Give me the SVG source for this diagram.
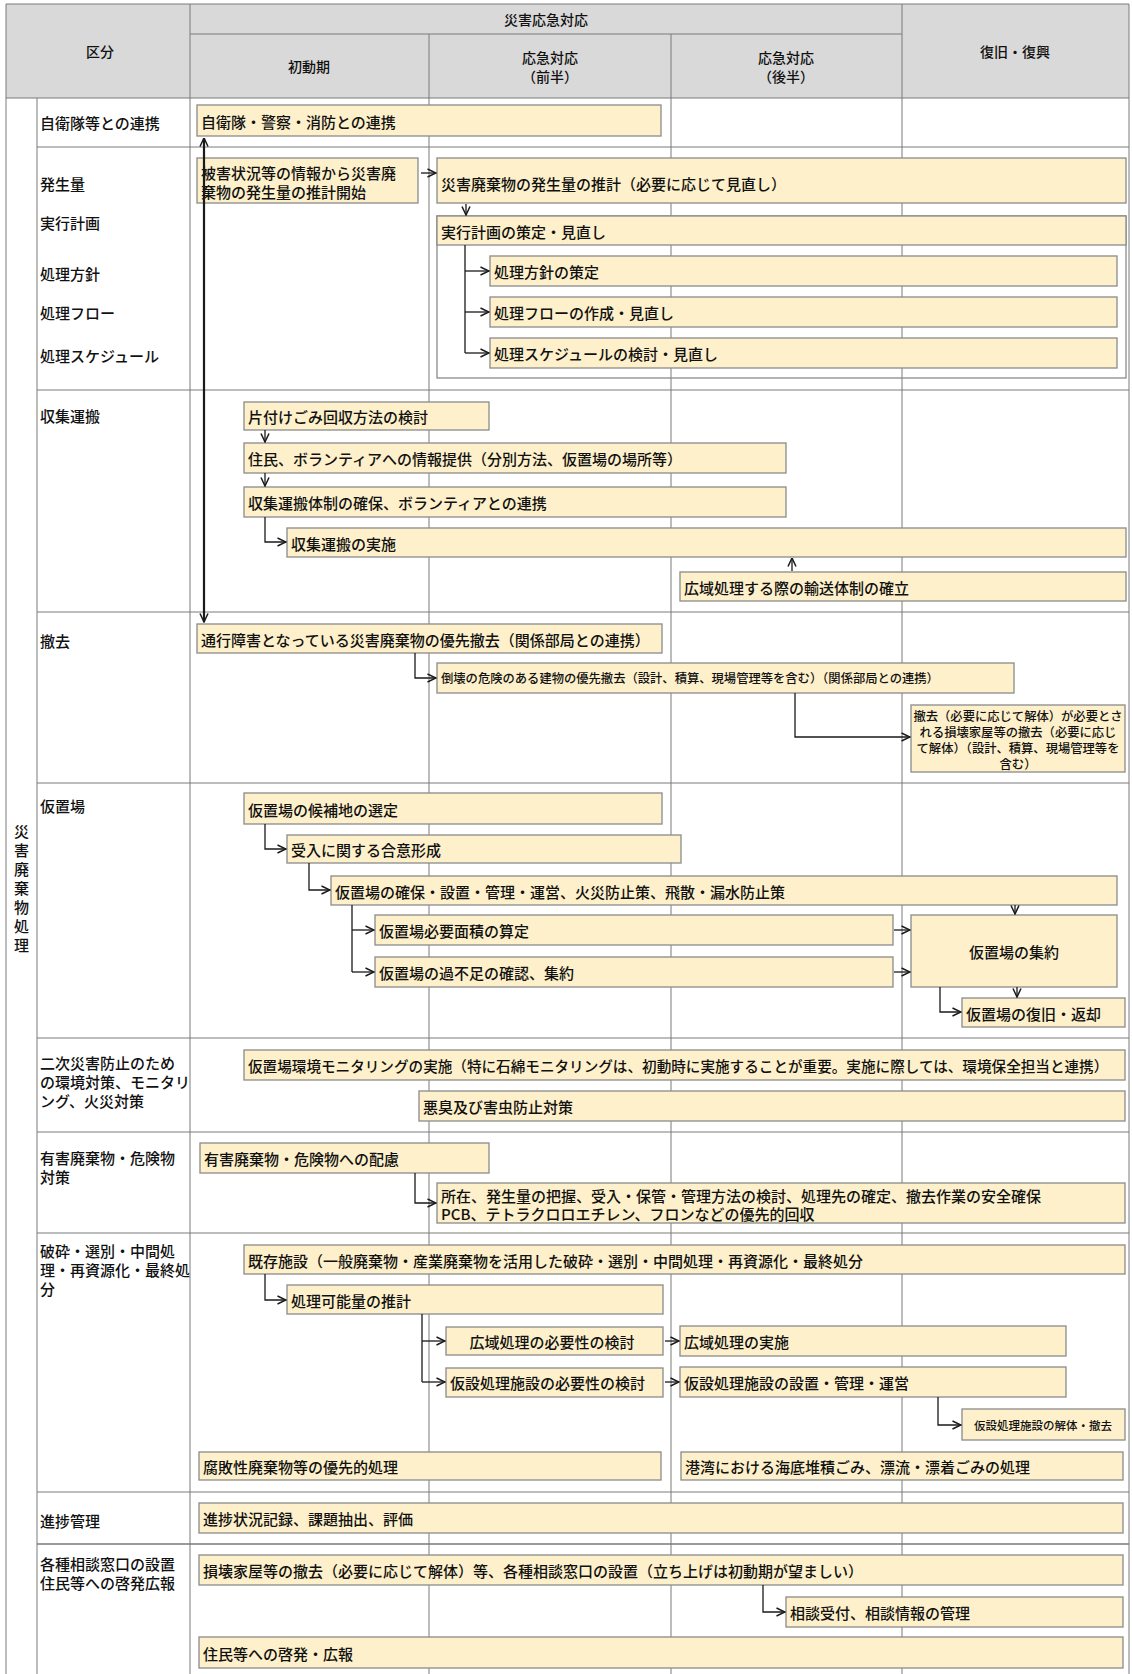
<svg xmlns="http://www.w3.org/2000/svg" width="1132" height="1674" viewBox="0 0 1132 1674">
<style>
.grid{stroke:#7a7a7a;stroke-width:1;fill:none}
.box{fill:#fdf0ca;stroke:#8a8a8a;stroke-width:1.3}
.frame{fill:none;stroke:#8a8a8a;stroke-width:1.3}
text{font-family:"Noto Sans CJK JP","Noto Sans CJK SC",sans-serif;font-size:15px;font-weight:500;fill:#111;dominant-baseline:central}
.h{font-size:14px}
.s{font-size:12.3px}
.xs{font-size:11.5px}
.c{text-anchor:middle}
.conn{stroke:#1a1a1a;stroke-width:1.3;fill:none}
.big{stroke:#1a1a1a;stroke-width:2.2;fill:none}
</style>
<defs>
<marker id="ah" viewBox="0 0 10 10" refX="9.5" refY="5" markerWidth="10" markerHeight="10" markerUnits="userSpaceOnUse" orient="auto-start-reverse">
<path d="M1,1 L9.5,5 L1,9" fill="none" stroke="#1a1a1a" stroke-width="1.5"/>
</marker>
</defs>
<rect width="1132" height="1674" fill="#ffffff"/>

<g id="table">
<rect x="6" y="4" width="1123" height="94" fill="#d9d9d9"/>
<line class="grid" x1="6" y1="4" x2="1129" y2="4"/>
<line class="grid" x1="6" y1="4" x2="6" y2="1674"/>
<line class="grid" x1="1129" y1="4" x2="1129" y2="1674"/>
<line class="grid" x1="37" y1="98" x2="37" y2="1674"/>
<line class="grid" x1="190" y1="4" x2="190" y2="1674"/>
<line class="grid" x1="429" y1="34" x2="429" y2="1674"/>
<line class="grid" x1="671" y1="34" x2="671" y2="1674"/>
<line class="grid" x1="902" y1="4" x2="902" y2="1674"/>
<line class="grid" x1="190" y1="34" x2="902" y2="34"/>
<line class="grid" x1="6" y1="98" x2="1129" y2="98"/>
<line class="grid" x1="37" y1="147" x2="1129" y2="147"/>
<line class="grid" x1="37" y1="390" x2="1129" y2="390"/>
<line class="grid" x1="37" y1="612" x2="1129" y2="612"/>
<line class="grid" x1="37" y1="783" x2="1129" y2="783"/>
<line class="grid" x1="37" y1="1038" x2="1129" y2="1038"/>
<line class="grid" x1="37" y1="1132" x2="1129" y2="1132"/>
<line class="grid" x1="37" y1="1233" x2="1129" y2="1233"/>
<line class="grid" x1="37" y1="1492" x2="1129" y2="1492"/>
<line class="grid" x1="37" y1="1544" x2="1129" y2="1544" style="stroke-width:1.6"/>
</g>

<g id="header">
<text class="h c" x="100" y="51">区分</text>
<text class="h c" x="546" y="19">災害応急対応</text>
<text class="h c" x="309" y="66">初動期</text>
<text class="h c" x="550" y="57">応急対応</text>
<text class="h c" x="550" y="76">（前半）</text>
<text class="h c" x="786" y="57">応急対応</text>
<text class="h c" x="786" y="76">（後半）</text>
<text class="h c" x="1015" y="51">復旧・復興</text>
</g>

<g id="side-label">
<text class="c" x="21.5" y="830">災</text>
<text class="c" x="21.5" y="849">害</text>
<text class="c" x="21.5" y="868">廃</text>
<text class="c" x="21.5" y="887">棄</text>
<text class="c" x="21.5" y="906">物</text>
<text class="c" x="21.5" y="925">処</text>
<text class="c" x="21.5" y="944">理</text>
</g>

<g id="categories">
<text x="40" y="122">自衛隊等との連携</text>
<text x="40" y="183">発生量</text>
<text x="40" y="222">実行計画</text>
<text x="40" y="273">処理方針</text>
<text x="40" y="312">処理フロー</text>
<text x="40" y="355">処理スケジュール</text>
<text x="40" y="415">収集運搬</text>
<text x="40" y="640">撤去</text>
<text x="40" y="805">仮置場</text>
<text x="40" y="1062">二次災害防止のため</text>
<text x="40" y="1081">の環境対策、モニタリ</text>
<text x="40" y="1100">ング、火災対策</text>
<text x="40" y="1157">有害廃棄物・危険物</text>
<text x="40" y="1176">対策</text>
<text x="40" y="1250">破砕・選別・中間処</text>
<text x="40" y="1269">理・再資源化・最終処</text>
<text x="40" y="1288">分</text>
<text x="40" y="1520">進捗管理</text>
<text x="40" y="1563">各種相談窓口の設置</text>
<text x="40" y="1582">住民等への啓発広報</text>
</g>

<g id="n-jieitai"><rect class="box" x="197" y="105" width="464" height="31"/><text x="201" y="121">自衛隊・警察・消防との連携</text></g>
<g id="n-suikei-start"><rect class="box" x="197" y="158" width="221" height="45"/><text x="201" y="172">被害状況等の情報から災害廃</text><text x="201" y="191">棄物の発生量の推計開始</text></g>
<g id="n-suikei"><rect class="box" x="437" y="158" width="689" height="45"/><text x="441" y="183">災害廃棄物の発生量の推計（必要に応じて見直し）</text></g>
<g id="n-frame"><rect class="frame" x="437" y="216" width="689" height="162"/></g>
<g id="n-jikko"><rect class="box" x="437" y="216" width="689" height="29"/><text x="441" y="231">実行計画の策定・見直し</text></g>
<g id="n-hoshin"><rect class="box" x="490" y="256" width="627" height="30"/><text x="494" y="271">処理方針の策定</text></g>
<g id="n-flow"><rect class="box" x="490" y="297" width="627" height="30"/><text x="494" y="312">処理フローの作成・見直し</text></g>
<g id="n-schedule"><rect class="box" x="490" y="338" width="627" height="30"/><text x="494" y="353">処理スケジュールの検討・見直し</text></g>

<g id="n-katazuke"><rect class="box" x="244" y="402" width="245" height="28"/><text x="248" y="416">片付けごみ回収方法の検討</text></g>
<g id="n-joho"><rect class="box" x="244" y="443" width="542" height="30"/><text x="248" y="458">住民、ボランティアへの情報提供（分別方法、仮置場の場所等）</text></g>
<g id="n-taisei"><rect class="box" x="244" y="487" width="542" height="30"/><text x="248" y="502">収集運搬体制の確保、ボランティアとの連携</text></g>
<g id="n-jisshi"><rect class="box" x="287" y="528" width="839" height="29"/><text x="291" y="543">収集運搬の実施</text></g>
<g id="n-yuso"><rect class="box" x="680" y="572" width="446" height="29"/><text x="684" y="587">広域処理する際の輸送体制の確立</text></g>

<g id="n-tsuko"><rect class="box" x="197" y="624" width="465" height="29"/><text x="201" y="639">通行障害となっている災害廃棄物の優先撤去（関係部局との連携）</text></g>
<g id="n-tokai"><rect class="box" x="437" y="663" width="577" height="30"/><text class="s" x="441" y="678">倒壊の危険のある建物の優先撤去（設計、積算、現場管理等を含む）（関係部局との連携）</text></g>
<g id="n-sonkai"><rect class="box" x="911" y="705" width="214" height="67"/><text class="s c" x="1018" y="716">撤去（必要に応じて解体）が必要とさ</text><text class="s c" x="1018" y="732">れる損壊家屋等の撤去（必要に応じ</text><text class="s c" x="1018" y="748">て解体）（設計、積算、現場管理等を</text><text class="s c" x="1018" y="764">含む）</text></g>

<g id="n-kohochi"><rect class="box" x="244" y="793" width="418" height="31"/><text x="248" y="809">仮置場の候補地の選定</text></g>
<g id="n-goi"><rect class="box" x="287" y="835" width="394" height="28"/><text x="291" y="849">受入に関する合意形成</text></g>
<g id="n-kakuho"><rect class="box" x="331" y="876" width="786" height="29"/><text x="335" y="891">仮置場の確保・設置・管理・運営、火災防止策、飛散・漏水防止策</text></g>
<g id="n-menseki"><rect class="box" x="375" y="915" width="518" height="30"/><text x="379" y="930">仮置場必要面積の算定</text></g>
<g id="n-kabusoku"><rect class="box" x="375" y="957" width="518" height="30"/><text x="379" y="972">仮置場の過不足の確認、集約</text></g>
<g id="n-shuyaku"><rect class="box" x="911" y="915" width="206" height="72"/><text class="c" x="1014" y="951">仮置場の集約</text></g>
<g id="n-henkyaku"><rect class="box" x="962" y="998" width="163" height="29"/><text x="966" y="1013">仮置場の復旧・返却</text></g>

<g id="n-monitoring"><rect class="box" x="244" y="1050" width="881" height="30"/><text x="248" y="1065" style="font-size:14.6px">仮置場環境モニタリングの実施（特に石綿モニタリングは、初動時に実施することが重要。実施に際しては、環境保全担当と連携）</text></g>
<g id="n-akushu"><rect class="box" x="419" y="1091" width="706" height="30"/><text x="423" y="1106">悪臭及び害虫防止対策</text></g>

<g id="n-yugai"><rect class="box" x="200" y="1143" width="289" height="30"/><text x="204" y="1158">有害廃棄物・危険物への配慮</text></g>
<g id="n-shozai"><rect class="box" x="437" y="1183" width="688" height="40"/><text x="441" y="1195">所在、発生量の把握、受入・保管・管理方法の検討、処理先の確定、撤去作業の安全確保</text><text x="441" y="1213">PCB、テトラクロロエチレン、フロンなどの優先的回収</text></g>

<g id="n-kizon"><rect class="box" x="244" y="1245" width="881" height="29"/><text x="248" y="1260">既存施設（一般廃棄物・産業廃棄物を活用した破砕・選別・中間処理・再資源化・最終処分</text></g>
<g id="n-kanoryo"><rect class="box" x="287" y="1285" width="376" height="29"/><text x="291" y="1300">処理可能量の推計</text></g>
<g id="n-koiki-kento"><rect class="box" x="446" y="1327" width="217" height="28"/><text class="c" x="552" y="1341">広域処理の必要性の検討</text></g>
<g id="n-kasetsu-kento"><rect class="box" x="446" y="1368" width="217" height="29"/><text x="450" y="1382">仮設処理施設の必要性の検討</text></g>
<g id="n-koiki-jisshi"><rect class="box" x="680" y="1326" width="386" height="30"/><text x="684" y="1341">広域処理の実施</text></g>
<g id="n-kasetsu-unei"><rect class="box" x="680" y="1367" width="386" height="30"/><text x="684" y="1382">仮設処理施設の設置・管理・運営</text></g>
<g id="n-kasetsu-kaitai"><rect class="box" x="962" y="1409" width="163" height="31"/><text class="xs c" x="1043" y="1425">仮設処理施設の解体・撤去</text></g>
<g id="n-fuhai"><rect class="box" x="199" y="1452" width="462" height="28"/><text x="203" y="1466">腐敗性廃棄物等の優先的処理</text></g>
<g id="n-kowan"><rect class="box" x="681" y="1452" width="442" height="28"/><text x="685" y="1466">港湾における海底堆積ごみ、漂流・漂着ごみの処理</text></g>

<g id="n-shinchoku"><rect class="box" x="199" y="1503" width="924" height="30"/><text x="203" y="1518">進捗状況記録、課題抽出、評価</text></g>

<g id="n-madoguchi"><rect class="box" x="199" y="1555" width="924" height="30"/><text x="203" y="1570">損壊家屋等の撤去（必要に応じて解体）等、各種相談窓口の設置（立ち上げは初動期が望ましい）</text></g>
<g id="n-sodan"><rect class="box" x="786" y="1597" width="337" height="30"/><text x="790" y="1612">相談受付、相談情報の管理</text></g>
<g id="n-keihatsu"><rect class="box" x="199" y="1637" width="924" height="31"/><text x="203" y="1653">住民等への啓発・広報</text></g>

<g id="connectors">
<path class="big" d="M204,138 V622" marker-start="url(#ah)" marker-end="url(#ah)"/>
<path class="conn" d="M421,173 H436" marker-end="url(#ah)"/>
<path class="conn" d="M466,204 V215" marker-end="url(#ah)"/>
<path class="conn" d="M465,245 V353"/>
<path class="conn" d="M465,271 H489" marker-end="url(#ah)"/>
<path class="conn" d="M465,312 H489" marker-end="url(#ah)"/>
<path class="conn" d="M465,353 H489" marker-end="url(#ah)"/>
<path class="conn" d="M265,430 V442" marker-end="url(#ah)"/>
<path class="conn" d="M265,473 V486" marker-end="url(#ah)"/>
<path class="conn" d="M265,517 V542 H286" marker-end="url(#ah)"/>
<path class="conn" d="M792,571 V558" marker-end="url(#ah)"/>
<path class="conn" d="M415,653 V678 H436" marker-end="url(#ah)"/>
<path class="conn" d="M795,693 V737 H910" marker-end="url(#ah)"/>
<path class="conn" d="M265,824 V849 H286" marker-end="url(#ah)"/>
<path class="conn" d="M309,863 V890 H330" marker-end="url(#ah)"/>
<path class="conn" d="M1015,905 V914" marker-end="url(#ah)"/>
<path class="conn" d="M352,905 V972"/>
<path class="conn" d="M352,930 H374" marker-end="url(#ah)"/>
<path class="conn" d="M352,972 H374" marker-end="url(#ah)"/>
<path class="conn" d="M894,930 H910" marker-end="url(#ah)"/>
<path class="conn" d="M894,972 H910" marker-end="url(#ah)"/>
<path class="conn" d="M1017,987 V997" marker-end="url(#ah)"/>
<path class="conn" d="M940,987 V1012 H961" marker-end="url(#ah)"/>
<path class="conn" d="M415,1173 V1203 H436" marker-end="url(#ah)"/>
<path class="conn" d="M265,1274 V1300 H286" marker-end="url(#ah)"/>
<path class="conn" d="M422,1314 V1382"/>
<path class="conn" d="M422,1341 H445" marker-end="url(#ah)"/>
<path class="conn" d="M422,1382 H445" marker-end="url(#ah)"/>
<path class="conn" d="M665,1341 H679" marker-end="url(#ah)"/>
<path class="conn" d="M665,1382 H679" marker-end="url(#ah)"/>
<path class="conn" d="M938,1397 V1425 H961" marker-end="url(#ah)"/>
<path class="conn" d="M763,1585 V1612 H785" marker-end="url(#ah)"/>
</g>
</svg>
